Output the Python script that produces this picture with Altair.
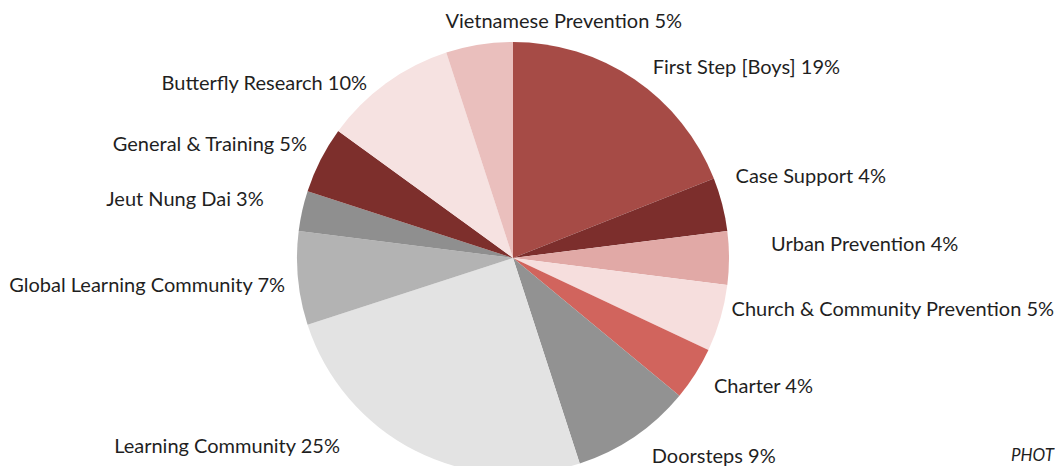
import altair as alt
import pandas as pd

names = [
    "First Step [Boys]", "Case Support", "Urban Prevention",
    "Church & Community Prevention", "Charter", "Doorsteps",
    "Learning Community", "Global Learning Community", "Jeut Nung Dai",
    "General & Training", "Butterfly Research", "Vietnamese Prevention",
]
values = [19, 4, 4, 5, 4, 9, 25, 7, 3, 5, 10, 5]
colors = [
    "#A64B46", "#7C2E2C", "#E1A9A6", "#F6DEDD", "#D1645D", "#929292",
    "#E3E3E3", "#B3B3B3", "#8F8F8F", "#7D2F2C", "#F6E2E1", "#EABFBD",
]
corner_note = ["PHOT"]

df = pd.DataFrame({"name": names, "value": values, "idx": list(range(len(names)))})

FONT = "Lato"
FS = 20
CX, CY = 505, 250

theta_scale = alt.Scale(domain=[0, 100], range=[0, 6.283185307179586])

base = alt.Chart(df)

pie = base.mark_arc(outerRadius=216).encode(
    theta=alt.Theta("value:Q", stack=True, scale=theta_scale),
    order=alt.Order("idx:Q"),
    color=alt.Color("name:N", scale=alt.Scale(domain=names, range=colors), legend=None),
    x=alt.value(CX),
    y=alt.value(CY),
)

lab = base.transform_window(
    cum="sum(value)", sort=[alt.SortField("idx")], frame=[None, 0]
).transform_calculate(
    mid="datum.cum - datum.value / 2",
    label="datum.name + ' ' + datum.value + '%'",
)

# label placement tweaks (style offsets, like Excel's callout nudging)
nudges = {
    "First Step [Boys]": ("left", 6, 7),
    "Case Support": ("left", -8, -22),
    "Urban Prevention": ("left", 20, -13),
    "Church & Community Prevention": ("left", -10, -14),
    "Charter": ("left", 0, 1),
    "Doorsteps": ("left", 5, 2),
    "Learning Community": ("right", -65, -23),
    "Global Learning Community": ("right", 9, 6),
    "Jeut Nung Dai": ("right", -17, -6),
    "General & Training": ("right", 6, -5),
    "Butterfly Research": ("right", -6, 19),
    "Vietnamese Prevention": ("center", 88, -1),
}

text_layers = []
for nm in names:
    align, dx, dy = nudges[nm]
    text_layers.append(
        lab.transform_filter(alt.datum.name == nm).mark_text(
            radius=238, align=align, baseline="middle", font=FONT, fontSize=FS,
            color="#1f1f1f", dx=dx, dy=dy,
        ).encode(
            theta=alt.Theta("mid:Q", stack=None, scale=theta_scale),
            text="label:N",
            x=alt.value(CX),
            y=alt.value(CY),
        )
    )

note = alt.Chart(pd.DataFrame({"t": corner_note})).mark_text(
    align="left", baseline="middle", font=FONT, fontSize=17, fontStyle="italic",
    color="#1f1f1f",
).encode(text="t:N", x=alt.value(1003), y=alt.value(448))

chart = alt.layer(pie, *text_layers, note).properties(
    width=1047, height=458, padding=0, background="white",
    autosize=alt.AutoSizeParams(type="none"),
).configure_view(strokeWidth=0, stroke="transparent")

chart.save("out.html", embed_options={"renderer": "svg", "actions": False})
